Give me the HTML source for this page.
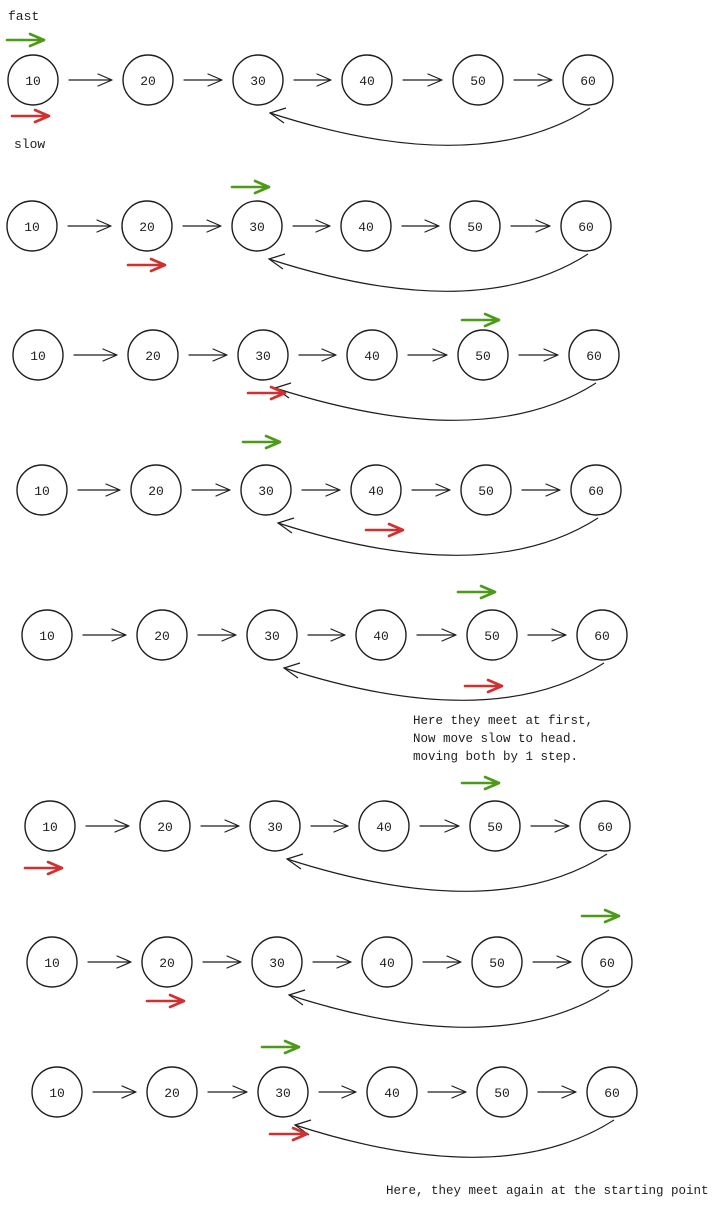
<!DOCTYPE html>
<html><head><meta charset="utf-8"><style>
html,body{margin:0;padding:0;background:#fff;}
svg{display:block}
text{font-family:"Liberation Mono",monospace;fill:#1e1e1e}
</style></head><body>
<svg id="s" width="720" height="1205" viewBox="0 0 720 1205" xmlns="http://www.w3.org/2000/svg">
<text x="8" y="20" font-size="13">fast</text>
<text x="14" y="148" font-size="13">slow</text>
<text x="413" y="724" font-size="12.5">Here they meet at first,</text>
<text x="413" y="742" font-size="12.5">Now move slow to head.</text>
<text x="413" y="760" font-size="12.5">moving both by 1 step.</text>
<text x="386" y="1194" font-size="12.5">Here, they meet again at the starting point</text>
</svg>
<script>
var s=document.getElementById('s'),NS='http://www.w3.org/2000/svg';
function el(t,a,txt){var e=document.createElementNS(NS,t);for(var k in a)e.setAttribute(k,a[k]);if(txt)e.textContent=txt;s.appendChild(e);return e;}
var rows=[
[80,[33,148,258,367,478,588],[7,40],[12,116]],
[226,[32,147,257,366,475,586],[232,187],[128,265]],
[355,[38,153,263,372,483,594],[462,320],[248,393]],
[490,[42,156,266,376,486,596],[243,442],[366,530]],
[635,[47,162,272,381,492,602],[458,592],[465,686]],
[826,[50,165,275,384,495,605],[462,783],[25,868]],
[962,[52,167,277,387,497,607],[582,916],[147,1001]],
[1092,[57,172,283,392,502,612],[262,1047],[270,1134]]];
var lab=['10','20','30','40','50','60'];
function arrow(x1,y,x2,col,w){
 el('path',{d:'M'+x1+' '+y+' L'+x2+' '+y+' M'+(x2-14)+' '+(y-6)+' L'+x2+' '+y+' L'+(x2-14)+' '+(y+6),stroke:col,'stroke-width':w,fill:'none','stroke-linecap':'round','stroke-linejoin':'round'});
}
rows.forEach(function(r){
 var y=r[0],xs=r[1];
 xs.forEach(function(x,i){
  el('circle',{cx:x,cy:y,r:25,fill:'none',stroke:'#1e1e1e','stroke-width':1.4});
  el('text',{x:x,y:y+5,'font-size':13,'text-anchor':'middle'},lab[i]);
  if(i<5)arrow(x+36,y,xs[i+1]-36,'#1e1e1e',1.2);
 });
 var a=xs[5],b=xs[2];
 el('path',{d:'M'+(a+2)+' '+(y+28)+' Q'+(a-110)+' '+(y+100)+' '+(b+12)+' '+(y+33),stroke:'#1e1e1e','stroke-width':1.2,fill:'none'});
 el('path',{d:'M'+(b+28)+' '+(y+28)+' L'+(b+12)+' '+(y+33)+' L'+(b+26)+' '+(y+43),stroke:'#1e1e1e','stroke-width':1.2,fill:'none'});
 arrow(r[2][0],r[2][1],r[2][0]+37,'#4d9a1a',2.6);
 arrow(r[3][0],r[3][1],r[3][0]+37,'#d03030',2.6);
});
</script>
</body></html>
